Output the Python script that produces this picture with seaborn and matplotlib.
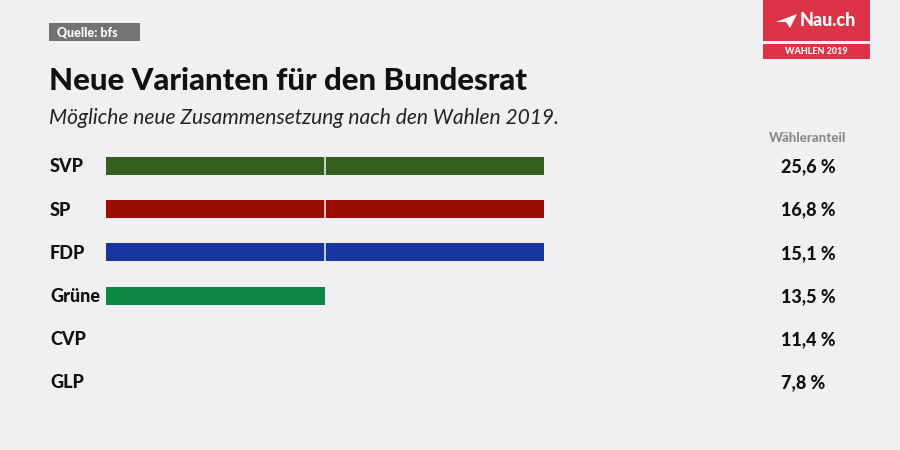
import matplotlib
matplotlib.use("Agg")
import matplotlib.pyplot as plt
import seaborn as sns
import pandas as pd
from matplotlib.patches import Rectangle, Polygon

parties = ["SVP", "SP", "FDP", "Grüne", "CVP", "GLP"]
seats = [2, 2, 2, 1, 0, 0]
shares = ["25,6 %", "16,8 %", "15,1 %", "13,5 %", "11,4 %", "7,8 %"]
colors = ["#365e1e", "#9c0d04", "#17359c", "#0b8644", "#888888", "#888888"]

title = "Neue Varianten für den Bundesrat"
subtitle = "Mögliche neue Zusammensetzung nach den Wahlen 2019."
source = "Quelle: bfs"
share_header = "Wähleranteil"

BG = "#f0f0f2"
sns.set_theme(style="white", rc={"axes.facecolor": BG, "figure.facecolor": BG})
plt.rcParams["font.family"] = ["Lato", "DejaVu Sans"]

W, H = 900, 450
fig = plt.figure(figsize=(9, 4.5), dpi=100)

row_sp = 43.2
top = 166 - row_sp / 2
bottom = 382 + row_sp / 2
ax = fig.add_axes([106 / W, 1 - bottom / H, 219 * 3 / W, (bottom - top) / H])
df = pd.DataFrame({"party": parties, "seats": seats})
bar_h = 18 / row_sp
sns.barplot(data=df, y="party", x="seats", hue="party", palette=colors,
            orient="h", dodge=False, legend=False, width=bar_h, ax=ax,
            saturation=1, linewidth=0)
for i, s in enumerate(seats):
    for k in range(1, s):
        ax.plot([k, k], [i - bar_h / 2, i + bar_h / 2], color="#e6e6e6", lw=1.2, zorder=5)
ax.set_xlim(0, 3)
ax.set_ylim(len(parties) - 0.5, -0.5)
ax.axis("off")

def fy(y):
    return 1 - y / H

for i, (p, s) in enumerate(zip(parties, shares)):
    y = 167 + i * row_sp
    fig.text(50 / W, fy(y), p, fontsize=13, fontweight="black", color="#111111",
             ha="left", va="center")
    fig.text(781 / W, fy(y), s, fontsize=13, fontweight="black", color="#111111",
             ha="left", va="center")

fig.text(808 / W, fy(138), share_header, fontsize=9.5, fontweight="black", color="#8a8a8a",
         ha="center", va="center")

fig.text(49 / W, fy(81), title, fontsize=22.4, fontweight="black", color="#111111",
         ha="left", va="center")
fig.text(49 / W, fy(118), subtitle, fontsize=15.1, style="italic", color="#222222",
         ha="left", va="center")

fig.patches.append(Rectangle((49 / W, fy(41)), 91 / W, 18 / H, transform=fig.transFigure,
                             facecolor="#737373", edgecolor="none"))
fig.text(57 / W, fy(32), source, fontsize=9, fontweight="black", color="white",
         ha="left", va="center")

red = "#dd3347"
fig.patches.append(Rectangle((763 / W, fy(41)), 107 / W, 41 / H, transform=fig.transFigure,
                             facecolor=red, edgecolor="none"))
fig.patches.append(Rectangle((763 / W, fy(59)), 107 / W, 15 / H, transform=fig.transFigure,
                             facecolor=red, edgecolor="none"))
fig.text(800 / W, fy(21), "Nau.ch", fontsize=13, fontweight="black", color="white",
         ha="left", va="center")
plane = [(776, 22), (797, 14), (790, 28), (786, 22)]
fig.patches.append(Polygon([(x / W, fy(y)) for x, y in plane], closed=True,
                           transform=fig.transFigure, facecolor="white", edgecolor="none"))
fig.text(816 / W, fy(52), "WAHLEN 2019", fontsize=6.5, fontweight="black", color="white",
         ha="center", va="center")

fig.savefig("out.png", dpi=100, facecolor=BG)
